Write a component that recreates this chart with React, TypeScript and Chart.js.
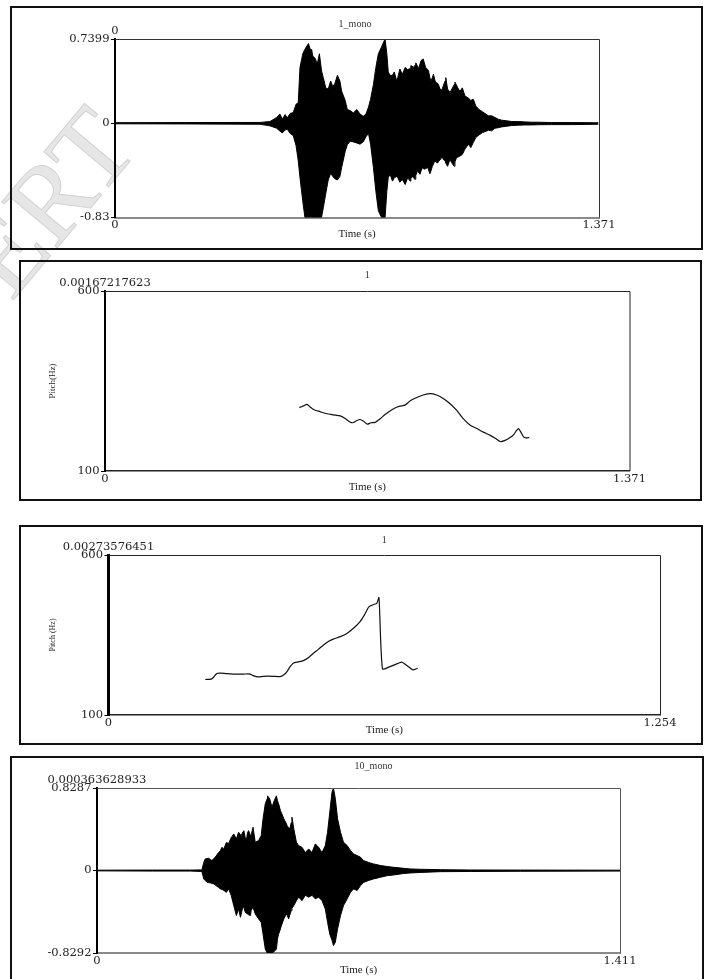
import React, { useEffect, useRef } from "react";
import { Chart, registerables } from "chart.js";

Chart.register(...registerables);

// ---------------- DATA ----------------
// Panel 1 : waveform "1_mono"
const wave1Title = "1_mono";
const wave1StartLabel = "0";
const wave1XTicks = [0, 1.371];
const wave1XTickLabels = ["0", "1.371"];
const wave1YTicks = [-0.83, 0, 0.7399];
const wave1YTickLabels = ["-0.83", "0", "0.7399"];
const wave1Time = [
  0.0, 0.2, 0.411, 0.439, 0.458, 0.467, 0.474, 0.482, 0.488, 0.496, 0.505, 0.513, 0.519, 0.524, 0.532, 0.538,
  0.548, 0.554, 0.557, 0.56, 0.567, 0.573, 0.579, 0.585, 0.59, 0.597, 0.604, 0.611, 0.617, 0.623, 0.63, 0.637,
  0.642, 0.652, 0.658, 0.666, 0.675, 0.685, 0.694, 0.703, 0.711, 0.718, 0.724, 0.732, 0.739, 0.746, 0.755, 0.762,
  0.765, 0.77, 0.774, 0.779, 0.786, 0.791, 0.798, 0.801, 0.807, 0.814, 0.822, 0.829, 0.836, 0.838, 0.842, 0.845,
  0.85, 0.852, 0.857, 0.859, 0.864, 0.867, 0.871, 0.873, 0.878, 0.88, 0.886, 0.888, 0.892, 0.895, 0.899, 0.902,
  0.906, 0.908, 0.914, 0.916, 0.921, 0.923, 0.927, 0.93, 0.935, 0.937, 0.942, 0.949, 0.956, 0.961, 0.963, 0.968,
  0.971, 0.977, 0.984, 0.991, 1.001, 1.008, 1.015, 1.022, 1.031, 1.041, 1.048, 1.058, 1.067, 1.076, 1.086, 1.095,
  1.11, 1.124, 1.143, 1.161, 1.18, 1.199, 1.237, 1.294, 1.369,
];
const wave1Upper = [
  0.004, 0.005, 0.006, 0.014, 0.05, 0.08, 0.035, 0.075, 0.045, 0.085, 0.093, 0.167, 0.18, 0.49, 0.61, 0.65,
  0.7, 0.64, 0.65, 0.59, 0.57, 0.52, 0.61, 0.46, 0.4, 0.31, 0.3, 0.37, 0.32, 0.35, 0.42, 0.37,
  0.28, 0.2, 0.12, 0.11, 0.09, 0.12, 0.08, 0.06, 0.08, 0.14, 0.21, 0.34, 0.49, 0.61, 0.67, 0.72,
  0.74, 0.61, 0.45, 0.42, 0.42, 0.45, 0.37, 0.4, 0.475, 0.43, 0.49, 0.47, 0.48, 0.505, 0.5, 0.49,
  0.51, 0.53, 0.5, 0.475, 0.52, 0.55, 0.56, 0.565, 0.51, 0.49, 0.47, 0.46, 0.4, 0.37, 0.4, 0.43,
  0.38, 0.36, 0.35, 0.34, 0.3, 0.27, 0.3, 0.33, 0.37, 0.4, 0.3, 0.27, 0.31, 0.34, 0.36, 0.33,
  0.31, 0.28, 0.31, 0.24, 0.22, 0.2, 0.21, 0.15, 0.12, 0.1, 0.085, 0.064, 0.064, 0.05, 0.034, 0.026,
  0.02, 0.014, 0.014, 0.011, 0.008, 0.008, 0.005, 0.005, 0.003,
];
const wave1Lower = [
  -0.006, -0.007, -0.01, -0.024, -0.045, -0.07, -0.086, -0.06, -0.054, -0.09, -0.11, -0.2, -0.33, -0.48, -0.69, -0.83,
  -0.83, -0.83, -0.83, -0.83, -0.83, -0.83, -0.83, -0.83, -0.745, -0.62, -0.5, -0.44, -0.47, -0.49, -0.5, -0.47,
  -0.39, -0.25, -0.19, -0.16, -0.165, -0.175, -0.185, -0.165, -0.12, -0.09, -0.186, -0.39, -0.6, -0.77, -0.83, -0.83,
  -0.83, -0.6, -0.48, -0.45, -0.51, -0.48, -0.47, -0.48, -0.52, -0.495, -0.54, -0.48, -0.51, -0.49, -0.465, -0.48,
  -0.495, -0.46, -0.42, -0.43, -0.45, -0.42, -0.39, -0.4, -0.405, -0.4, -0.39, -0.41, -0.445, -0.42, -0.38, -0.36,
  -0.33, -0.34, -0.35, -0.34, -0.32, -0.31, -0.3, -0.32, -0.33, -0.35, -0.38, -0.32, -0.36, -0.38, -0.34, -0.3,
  -0.3, -0.29, -0.275, -0.23, -0.186, -0.215, -0.17, -0.127, -0.104, -0.083, -0.075, -0.063, -0.068, -0.045, -0.04, -0.033,
  -0.027, -0.021, -0.018, -0.016, -0.016, -0.014, -0.013, -0.013, -0.01,
];

// Panel 2 : pitch "1"
const pitch1Title = "1";
const pitch1StartLabel = "0.00167217623";
const pitch1AxisLabel = "Pitch(Hz)";
const pitch1XTicks = [0, 1.371];
const pitch1XTickLabels = ["0", "1.371"];
const pitch1YTicks = [100, 600];
const pitch1YTickLabels = ["100", "600"];
const pitch1Time = [
  0.508, 0.519, 0.528, 0.536, 0.545, 0.562, 0.58, 0.597, 0.615, 0.628, 0.639, 0.648, 0.656, 0.667, 0.676, 0.686,
  0.695, 0.706, 0.719, 0.732, 0.745, 0.758, 0.771, 0.784, 0.798, 0.815, 0.832, 0.85, 0.867, 0.885, 0.902, 0.919,
  0.937, 0.954, 0.972, 0.989, 1.007, 1.02, 1.033, 1.046, 1.059, 1.069, 1.076, 1.081, 1.087, 1.094, 1.101, 1.109,
];
const pitch1Hz = [
  276, 281, 285, 278, 271, 265, 259, 256, 253, 246, 237, 234, 239, 243, 238, 230,
  234, 235, 245, 257, 267, 275, 280, 283, 295, 304, 311, 315, 311, 301, 287, 269,
  245, 228, 218, 208, 199, 191, 182, 185, 193, 202, 213, 218, 208, 195, 192, 193,
];

// Panel 3 : pitch "1"
const pitch2Title = "1";
const pitch2StartLabel = "0.00273576451";
const pitch2AxisLabel = "Pitch (Hz)";
const pitch2XTicks = [0, 1.254];
const pitch2XTickLabels = ["0", "1.254"];
const pitch2YTicks = [100, 600];
const pitch2YTickLabels = ["100", "600"];
const pitch2Time = [
  0.22, 0.233, 0.239, 0.246, 0.254, 0.269, 0.284, 0.307, 0.322, 0.329, 0.341, 0.352, 0.375, 0.39, 0.398, 0.405,
  0.413, 0.42, 0.432, 0.443, 0.455, 0.466, 0.477, 0.489, 0.5, 0.511, 0.527, 0.542, 0.557, 0.572, 0.582, 0.592,
  0.604, 0.61, 0.615, 0.623, 0.64, 0.667, 0.674, 0.682, 0.692, 0.703,
];
const pitch2Hz = [
  211, 212, 218, 230, 231, 229, 228, 228, 228, 223, 219, 221, 221, 220, 225, 234,
  251, 262, 266, 270, 280, 293, 305, 319, 330, 337, 345, 355, 371, 392, 413, 438,
  446, 449, 467, 244, 251, 265, 259, 251, 241, 246,
];

// Panel 4 : waveform "10_mono"
const wave2Title = "10_mono";
const wave2StartLabel = "0.000363628933";
const wave2XTicks = [0, 1.411];
const wave2XTickLabels = ["0", "1.411"];
const wave2YTicks = [-0.8292, 0, 0.8287];
const wave2YTickLabels = ["-0.8292", "0", "0.8287"];
const wave2Time = [
  0.0, 0.15, 0.252, 0.283, 0.288, 0.292, 0.297, 0.301, 0.306, 0.31, 0.315, 0.319, 0.324, 0.328, 0.333, 0.337,
  0.342, 0.349, 0.355, 0.362, 0.369, 0.376, 0.382, 0.387, 0.389, 0.394, 0.396, 0.4, 0.403, 0.406, 0.409, 0.414,
  0.416, 0.421, 0.427, 0.436, 0.443, 0.448, 0.454, 0.459, 0.46, 0.466, 0.472, 0.478, 0.484, 0.487, 0.49, 0.495,
  0.497, 0.504, 0.511, 0.513, 0.517, 0.52, 0.524, 0.526, 0.531, 0.538, 0.544, 0.553, 0.562, 0.571, 0.58, 0.589,
  0.598, 0.607, 0.616, 0.622, 0.628, 0.634, 0.638, 0.643, 0.649, 0.657, 0.665, 0.675, 0.684, 0.692, 0.702, 0.711,
  0.719, 0.733, 0.746, 0.765, 0.783, 0.8, 0.827, 0.845, 0.872, 0.926, 1.007, 1.142, 1.411,
];
const wave2Upper = [
  0.003, 0.004, 0.004, 0.006, 0.08, 0.116, 0.12, 0.123, 0.11, 0.1, 0.12, 0.133, 0.16, 0.18, 0.2, 0.233,
  0.216, 0.28, 0.27, 0.33, 0.367, 0.317, 0.384, 0.36, 0.35, 0.39, 0.4, 0.33, 0.3, 0.38, 0.4, 0.35,
  0.36, 0.434, 0.283, 0.3, 0.35, 0.52, 0.67, 0.72, 0.75, 0.72, 0.635, 0.7, 0.75, 0.7, 0.67, 0.6,
  0.585, 0.52, 0.47, 0.45, 0.43, 0.417, 0.48, 0.535, 0.417, 0.283, 0.25, 0.233, 0.18, 0.216, 0.18, 0.267,
  0.233, 0.18, 0.25, 0.384, 0.585, 0.786, 0.8287, 0.72, 0.52, 0.384, 0.283, 0.25, 0.2, 0.166, 0.15, 0.133,
  0.1, 0.08, 0.066, 0.05, 0.04, 0.032, 0.022, 0.015, 0.012, 0.008, 0.005, 0.004, 0.003,
];
const wave2Lower = [
  -0.004, -0.006, -0.006, -0.01, -0.085, -0.1, -0.12, -0.122, -0.125, -0.13, -0.135, -0.145, -0.16, -0.17, -0.185, -0.19,
  -0.2, -0.22, -0.185, -0.25, -0.353, -0.453, -0.387, -0.47, -0.44, -0.353, -0.37, -0.42, -0.43, -0.437, -0.445, -0.453,
  -0.4, -0.37, -0.437, -0.487, -0.52, -0.64, -0.79, -0.8292, -0.8292, -0.8292, -0.8292, -0.815, -0.79, -0.688, -0.64, -0.587,
  -0.56, -0.487, -0.437, -0.45, -0.487, -0.45, -0.403, -0.38, -0.353, -0.303, -0.268, -0.303, -0.25, -0.268, -0.25, -0.285,
  -0.268, -0.303, -0.387, -0.52, -0.64, -0.7, -0.755, -0.72, -0.587, -0.453, -0.353, -0.285, -0.22, -0.185, -0.2, -0.152,
  -0.12, -0.1, -0.085, -0.068, -0.052, -0.045, -0.031, -0.025, -0.02, -0.012, -0.01, -0.008, -0.006,
];

const timeAxisLabel = "Time (s)";
const watermarkText = "IJERT";

// ---------------- STYLE / LAYOUT ----------------
const NUM_FONT = "'DejaVu Serif', serif";
const WORD_FONT = "'Liberation Serif', 'Times New Roman', serif";
const TEXT = "#222";

type Rect = { l: number; t: number; r: number; b: number };
type Spec = {
  kind: "wave" | "pitch";
  box: Rect;
  plot: Rect;
  titleY: number;
  titleDx: number;
  xTitleY: number;
  yTitleX?: number;
  yTitleSize?: number;
  title: string;
  startLabel: string;
  yLabel?: string;
  xTicks: number[];
  xTickLabels: string[];
  yTicks: number[];
  yTickLabels: string[];
  time: number[];
  upper: number[];
  lower?: number[];
  yBorderWidth: number;
  xBorderColor: string;
  xBorderWidth: number;
  frameColor: string;
};

const panels: Spec[] = [
  {
    kind: "wave",
    box: { l: 10, t: 6, r: 703, b: 250 },
    plot: { l: 115, t: 39, r: 599, b: 217.5 },
    titleY: 24,
    titleDx: -2,
    xTitleY: 234,
    title: wave1Title,
    startLabel: wave1StartLabel,
    xTicks: wave1XTicks,
    xTickLabels: wave1XTickLabels,
    yTicks: wave1YTicks,
    yTickLabels: wave1YTickLabels,
    time: wave1Time,
    upper: wave1Upper,
    lower: wave1Lower,
    yBorderWidth: 2,
    xBorderColor: "#8a8a8a",
    xBorderWidth: 2,
    frameColor: "#333",
  },
  {
    kind: "pitch",
    box: { l: 19, t: 260, r: 702, b: 501 },
    plot: { l: 105, t: 291, r: 629.5, b: 471 },
    titleY: 275,
    titleDx: 0,
    xTitleY: 487,
    yTitleX: 53,
    yTitleSize: 9,
    title: pitch1Title,
    startLabel: pitch1StartLabel,
    yLabel: pitch1AxisLabel,
    xTicks: pitch1XTicks,
    xTickLabels: pitch1XTickLabels,
    yTicks: pitch1YTicks,
    yTickLabels: pitch1YTickLabels,
    time: pitch1Time,
    upper: pitch1Hz,
    yBorderWidth: 2,
    xBorderColor: "#222",
    xBorderWidth: 1.5,
    frameColor: "#222",
  },
  {
    kind: "pitch",
    box: { l: 19, t: 525, r: 703, b: 745 },
    plot: { l: 108.5, t: 555, r: 660, b: 715 },
    titleY: 540,
    titleDx: 0,
    xTitleY: 730,
    yTitleX: 53,
    yTitleSize: 8,
    title: pitch2Title,
    startLabel: pitch2StartLabel,
    yLabel: pitch2AxisLabel,
    xTicks: pitch2XTicks,
    xTickLabels: pitch2XTickLabels,
    yTicks: pitch2YTicks,
    yTickLabels: pitch2YTickLabels,
    time: pitch2Time,
    upper: pitch2Hz,
    yBorderWidth: 3,
    xBorderColor: "#222",
    xBorderWidth: 1.5,
    frameColor: "#222",
  },
  {
    kind: "wave",
    box: { l: 10, t: 756, r: 704, b: 990 },
    plot: { l: 97, t: 788, r: 620, b: 953 },
    titleY: 766,
    titleDx: 15,
    xTitleY: 970,
    title: wave2Title,
    startLabel: wave2StartLabel,
    xTicks: wave2XTicks,
    xTickLabels: wave2XTickLabels,
    yTicks: wave2YTicks,
    yTickLabels: wave2YTickLabels,
    time: wave2Time,
    upper: wave2Upper,
    lower: wave2Lower,
    yBorderWidth: 2,
    xBorderColor: "#8a8a8a",
    xBorderWidth: 2,
    frameColor: "#555",
  },
];

const framePlugin = {
  id: "plotFrame",
  afterDatasetsDraw(chart: any, _args: any, opts: any) {
    const { ctx, chartArea } = chart;
    const { left, top, right, bottom } = chartArea;
    ctx.save();
    ctx.strokeStyle = opts.color || "#333";
    ctx.lineWidth = opts.width || 1;
    ctx.beginPath();
    ctx.moveTo(left, top + 0.5);
    ctx.lineTo(right + 0.5, top + 0.5);
    ctx.lineTo(right + 0.5, bottom);
    ctx.stroke();
    ctx.restore();
  },
};

const panelTitlePlugin = {
  id: "panelTitle",
  afterDraw(chart: any, _args: any, opts: any) {
    const { ctx, chartArea } = chart;
    ctx.save();
    ctx.font = `${opts.size}px ${opts.family}`;
    ctx.fillStyle = opts.color;
    ctx.textAlign = "center";
    ctx.textBaseline = "middle";
    ctx.fillText(opts.text, (chartArea.left + chartArea.right) / 2 + opts.dx, opts.y);
    ctx.restore();
  },
};

function buildConfig(s: Spec): any {
  const { box, plot } = s;
  const numFont = { family: NUM_FONT, size: 11.5, lineHeight: 1.2 };
  const xTitleSize = 11;
  const xTitlePadBottom = box.b - s.xTitleY - (xTitleSize * 1.2) / 2;
  const xMax = s.xTicks[s.xTicks.length - 1];
  const yMin = s.yTicks[0];
  const yMax = s.yTicks[s.yTicks.length - 1];

  const datasets: any[] = [];
  if (s.kind === "wave") {
    datasets.push({
      data: s.time.map((t, i) => ({ x: t, y: s.upper[i] })),
      borderColor: "#000",
      backgroundColor: "#000",
      borderWidth: 1,
      fill: "+1",
      pointRadius: 0,
      tension: 0,
    });
    datasets.push({
      data: s.time.map((t, i) => ({ x: t, y: (s.lower as number[])[i] })),
      borderColor: "#000",
      backgroundColor: "#000",
      borderWidth: 1,
      fill: false,
      pointRadius: 0,
      tension: 0,
    });
  } else {
    datasets.push({
      data: s.time.map((t, i) => ({ x: t, y: s.upper[i] })),
      borderColor: "#111",
      borderWidth: 1.2,
      fill: false,
      pointRadius: 0,
      tension: 0.2,
    });
  }

  const yTitleSize = s.yTitleSize || 9;
  return {
    type: "line",
    data: { datasets },
    plugins: [framePlugin, panelTitlePlugin],
    options: {
      animation: false,
      responsive: false,
      events: [],
      layout: { padding: { left: 0, top: 0, bottom: 0, right: box.r - plot.r } },
      plugins: {
        legend: { display: false },
        tooltip: { enabled: false },
        title: { display: false },
        panelTitle: {
          text: s.title,
          y: s.titleY - box.t,
          dx: s.titleDx,
          size: 10,
          family: WORD_FONT,
          color: "#333",
        },
        plotFrame: { color: s.frameColor, width: 1 },
      },
      scales: {
        x: {
          type: "linear",
          position: "bottom",
          min: 0,
          max: xMax,
          afterBuildTicks: (ax: any) => {
            ax.ticks = s.xTicks.map((v) => ({ value: v }));
          },
          afterFit: (ax: any) => {
            ax.height = box.b - plot.b;
          },
          ticks: {
            autoSkip: false,
            maxRotation: 0,
            minRotation: 0,
            padding: 1,
            color: TEXT,
            font: numFont,
            callback: (_v: any, i: number) => s.xTickLabels[i],
          },
          grid: { display: false, drawTicks: false },
          border: { display: true, color: s.xBorderColor, width: s.xBorderWidth },
          title: {
            display: true,
            text: timeAxisLabel,
            color: TEXT,
            font: { family: WORD_FONT, size: xTitleSize, lineHeight: 1.2 },
            padding: { top: 0, bottom: xTitlePadBottom },
          },
        },
        x2: {
          type: "linear",
          position: "top",
          min: 0,
          max: xMax,
          afterBuildTicks: (ax: any) => {
            ax.ticks = [{ value: s.xTicks[0] }];
          },
          afterFit: (ax: any) => {
            ax.height = plot.t - box.t;
          },
          ticks: {
            autoSkip: false,
            maxRotation: 0,
            minRotation: 0,
            padding: 1,
            color: TEXT,
            font: numFont,
            callback: () => s.startLabel,
          },
          grid: { display: false, drawTicks: false },
          border: { display: false },
        },
        y: {
          type: "linear",
          position: "left",
          min: yMin,
          max: yMax,
          afterBuildTicks: (ax: any) => {
            ax.ticks = s.yTicks.map((v) => ({ value: v }));
          },
          afterFit: (ax: any) => {
            ax.width = plot.l - box.l;
          },
          ticks: {
            autoSkip: false,
            padding: 1.5,
            color: TEXT,
            font: numFont,
            callback: (_v: any, i: number) => s.yTickLabels[i],
          },
          grid: {
            display: true,
            drawOnChartArea: false,
            drawTicks: true,
            tickLength: 4,
            color: "#000",
            lineWidth: 1,
          },
          border: { display: true, color: "#000", width: s.yBorderWidth },
          title: s.yLabel
            ? {
                display: true,
                text: s.yLabel,
                color: TEXT,
                font: { family: WORD_FONT, size: yTitleSize, lineHeight: 1.2 },
                padding: { top: (s.yTitleX as number) - box.l - (yTitleSize * 1.2) / 2, bottom: 0 },
              }
            : { display: false },
        },
      },
    },
  };
}

function Panel({ spec }: { spec: Spec }) {
  const ref = useRef<HTMLCanvasElement>(null);
  useEffect(() => {
    if (!ref.current) return;
    const chart = new Chart(ref.current, buildConfig(spec));
    return () => chart.destroy();
  }, [spec]);
  const W = spec.box.r - spec.box.l;
  const H = spec.box.b - spec.box.t;
  return (
    <>
      <canvas
        ref={ref}
        width={W}
        height={H}
        style={{ position: "absolute", left: spec.box.l, top: spec.box.t, width: W, height: H }}
      />
      <div
        style={{
          position: "absolute",
          left: spec.box.l,
          top: spec.box.t,
          width: W,
          height: H,
          border: "2px solid #111",
          boxSizing: "border-box",
          pointerEvents: "none",
        }}
      />
    </>
  );
}

export default function App() {
  return (
    <div
      style={{
        position: "absolute",
        left: 0,
        top: 0,
        width: 705,
        height: 979,
        overflow: "hidden",
        background: "#fff",
      }}
    >
      <div
        style={{
          position: "absolute",
          left: -110,
          top: 304,
          fontFamily: WORD_FONT,
          fontSize: 110,
          lineHeight: 1,
          color: "#e6e6e6",
          WebkitTextStroke: "1px #d2d2d2",
          whiteSpace: "nowrap",
          transform: "rotate(-50deg)",
          transformOrigin: "0 0",
        }}
      >
        {watermarkText}
      </div>
      {panels.map((p, i) => (
        <Panel key={i} spec={p} />
      ))}
    </div>
  );
}
